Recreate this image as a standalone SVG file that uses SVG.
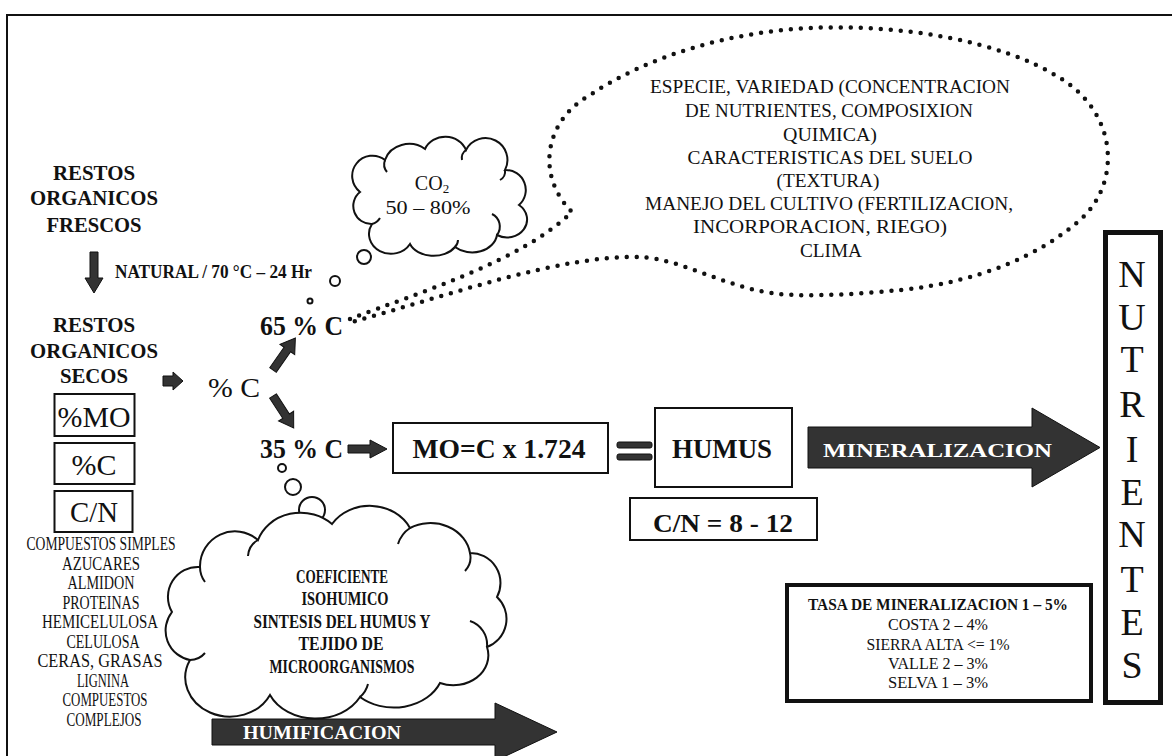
<svg xmlns="http://www.w3.org/2000/svg" width="1172" height="756" viewBox="0 0 1172 756">
<style>
.t{font-family:"Liberation Serif","Times New Roman",serif;fill:#111}
.b{font-weight:bold}
.m{text-anchor:middle}
.box{fill:#fff;stroke:#111;stroke-width:2}
.arr{fill:#333;stroke:#111;stroke-width:1}
.ln{fill:none;stroke:#111;stroke-width:2}
.bub{fill:#fff;stroke:#111;stroke-width:2}
.w{fill:#fff}
</style>
<rect x="0" y="0" width="1172" height="756" fill="#fff"/>
<rect x="7" y="15" width="1185" height="770" fill="none" stroke="#111" stroke-width="2"/>

<g id="connectors">
  <path id="down-arrow" class="arr" d="M90,252 L98,252 L98,278 L103,278 L94,293 L85,278 L90,278 Z"/>
  <path id="secos-arrow" class="arr" d="M163,376 L173,376 L173,372 L183,381 L173,390 L173,386 L163,386 Z"/>
  <path id="up-arrow" class="arr" transform="translate(273,370) rotate(-55)" d="M0,-4 L25,-4 L25,-9 L39,0 L25,9 L25,4 L0,4 Z"/>
  <path id="dn-arrow" class="arr" transform="translate(273,396) rotate(57)" d="M0,-4 L24,-4 L24,-9 L38,0 L24,9 L24,4 L0,4 Z"/>
  <path id="c35-arrow" class="arr" d="M348,445 L370,445 L370,440 L387,449 L370,458 L370,453 L348,453 Z"/>
  <rect class="arr" x="617" y="442" width="35" height="6" rx="2"/>
  <rect class="arr" x="617" y="454" width="35" height="6" rx="2"/>
  <path id="mineral-arrow" class="arr" d="M808,427 L1032,427 L1032,408 L1100,447.5 L1032,487 L1032,468 L808,468 Z"/>
  <text class="t b w" x="823" y="457" font-size="19" textLength="229" lengthAdjust="spacingAndGlyphs">MINERALIZACION</text>
  <path id="humif-arrow" class="arr" d="M212,719 L495,719 L495,703 L557,732 L495,761 L495,745 L212,745 Z"/>
  <text class="t b w" x="243" y="739" font-size="19" textLength="158" lengthAdjust="spacingAndGlyphs">HUMIFICACION</text>
  <path id="dotted-bubble" d="M350,319 C420,292 520,262 572,212 C535,175 545,120 590,95 C650,55 730,32 810,28 C900,24 1000,40 1060,78 C1120,115 1120,185 1080,220 C1040,255 980,282 900,290 C860,294 810,297 780,294 C730,290 680,258 640,257 C560,255 450,295 352,322" fill="none" stroke="#111" stroke-width="4.5" stroke-linecap="round" stroke-dasharray="0 10"/>
  <circle class="bub" cx="364" cy="257" r="7"/>
  <circle class="bub" cx="335" cy="281" r="5"/>
  <circle class="bub" cx="310" cy="301" r="2.5"/>
  <circle class="bub" cx="282" cy="468" r="4"/>
  <circle class="bub" cx="293" cy="487" r="8"/>
  <circle class="bub" cx="312" cy="510" r="13"/>
</g>

<g id="restos-frescos">
  <text class="t b m" x="94" y="180" font-size="20" textLength="82" lengthAdjust="spacingAndGlyphs">RESTOS</text>
  <text class="t b m" x="94" y="205" font-size="20" textLength="128" lengthAdjust="spacingAndGlyphs">ORGANICOS</text>
  <text class="t b m" x="94" y="232" font-size="20" textLength="95" lengthAdjust="spacingAndGlyphs">FRESCOS</text>
</g>
<g id="natural">
  <text class="t b" x="115" y="278" font-size="18" textLength="197" lengthAdjust="spacingAndGlyphs">NATURAL / 70 °C – 24 Hr</text>
</g>
<g id="restos-secos">
  <text class="t b m" x="94" y="332" font-size="20" textLength="82" lengthAdjust="spacingAndGlyphs">RESTOS</text>
  <text class="t b m" x="94" y="358" font-size="20" textLength="128" lengthAdjust="spacingAndGlyphs">ORGANICOS</text>
  <text class="t b m" x="94" y="383" font-size="20" textLength="68" lengthAdjust="spacingAndGlyphs">SECOS</text>
</g>
<g id="mo-box">
  <rect class="box" x="54.5" y="394" width="80" height="42"/>
  <text class="t m" x="94" y="427" font-size="29" textLength="73" lengthAdjust="spacingAndGlyphs">%MO</text>
</g>
<g id="c-box">
  <rect class="box" x="54.5" y="443" width="80" height="41"/>
  <text class="t m" x="94" y="475" font-size="29" textLength="45" lengthAdjust="spacingAndGlyphs">%C</text>
</g>
<g id="cn-box">
  <rect class="box" x="54.5" y="491" width="78" height="41"/>
  <text class="t m" x="94" y="522" font-size="29" textLength="48" lengthAdjust="spacingAndGlyphs">C/N</text>
</g>
<g id="compuestos">
  <text class="t m" x="101" y="550" font-size="18" textLength="149" lengthAdjust="spacingAndGlyphs">COMPUESTOS SIMPLES</text>
  <text class="t m" x="101" y="569.5" font-size="18" textLength="78" lengthAdjust="spacingAndGlyphs">AZUCARES</text>
  <text class="t m" x="101" y="589" font-size="18" textLength="67" lengthAdjust="spacingAndGlyphs">ALMIDON</text>
  <text class="t m" x="101" y="608.5" font-size="18" textLength="77" lengthAdjust="spacingAndGlyphs">PROTEINAS</text>
  <text class="t m" x="100" y="628" font-size="18" textLength="116" lengthAdjust="spacingAndGlyphs">HEMICELULOSA</text>
  <text class="t m" x="103" y="647.5" font-size="18" textLength="73" lengthAdjust="spacingAndGlyphs">CELULOSA</text>
  <text class="t m" x="100" y="667" font-size="18" textLength="125" lengthAdjust="spacingAndGlyphs">CERAS, GRASAS</text>
  <text class="t m" x="103" y="686.5" font-size="18" textLength="52" lengthAdjust="spacingAndGlyphs">LIGNINA</text>
  <text class="t m" x="105" y="706" font-size="18" textLength="85" lengthAdjust="spacingAndGlyphs">COMPUESTOS</text>
  <text class="t m" x="104" y="725.5" font-size="18" textLength="75" lengthAdjust="spacingAndGlyphs">COMPLEJOS</text>
</g>
<g id="pc">
  <text class="t" x="208" y="397" font-size="28" textLength="52" lengthAdjust="spacingAndGlyphs">% C</text>
</g>
<g id="pc65">
  <text class="t b" x="260" y="335" font-size="27" textLength="83" lengthAdjust="spacingAndGlyphs">65 % C</text>
</g>
<g id="pc35">
  <text class="t b" x="260" y="458" font-size="27" textLength="83" lengthAdjust="spacingAndGlyphs">35 % C</text>
</g>
<g id="co2-cloud">
  <path class="bub" d="M372,224 A18,18 0 0 1 360,192 A20,20 0 0 1 385,160 A25,22 0 0 1 425,149 A22,20 0 0 1 466,150 A20,20 0 0 1 505,170 A20,20 0 0 1 519,205 A20,18 0 0 1 497,235 A25,20 0 0 1 455,247 A25,18 0 0 1 410,244 A20,18 0 0 1 372,224 Z"/>
  <path class="ln" d="M372,224 A14,12 0 0 0 380,218 M385,160 A12,12 0 0 0 387,172 M466,150 A10,10 0 0 0 462,160 M505,170 A10,10 0 0 1 500,180 M497,235 A14,14 0 0 0 492,214 M455,247 A10,10 0 0 0 458,240"/>
  <text class="t m" x="432" y="190" font-size="20">CO<tspan font-size="13" dy="3">2</tspan></text>
  <text class="t m" x="428" y="214" font-size="19" textLength="85" lengthAdjust="spacingAndGlyphs">50 – 80%</text>
</g>
<g id="factors">
  <text class="t m" x="830" y="93" font-size="18" textLength="360" lengthAdjust="spacingAndGlyphs">ESPECIE, VARIEDAD (CONCENTRACION</text>
  <text class="t m" x="829" y="117" font-size="18" textLength="288" lengthAdjust="spacingAndGlyphs">DE NUTRIENTES, COMPOSIXION</text>
  <text class="t m" x="830" y="141" font-size="18" textLength="94" lengthAdjust="spacingAndGlyphs">QUIMICA)</text>
  <text class="t m" x="830" y="164" font-size="18" textLength="285" lengthAdjust="spacingAndGlyphs">CARACTERISTICAS DEL SUELO</text>
  <text class="t m" x="828" y="187" font-size="18" textLength="103" lengthAdjust="spacingAndGlyphs">(TEXTURA)</text>
  <text class="t m" x="829" y="210" font-size="18" textLength="368" lengthAdjust="spacingAndGlyphs">MANEJO DEL CULTIVO (FERTILIZACION,</text>
  <text class="t m" x="820" y="233" font-size="18" textLength="254" lengthAdjust="spacingAndGlyphs">INCORPORACION, RIEGO)</text>
  <text class="t m" x="831" y="257" font-size="18" textLength="62" lengthAdjust="spacingAndGlyphs">CLIMA</text>
</g>
<g id="humif-cloud">
  <path class="bub" d="M190,660 A30,30 0 0 1 172,612 A30,30 0 0 1 200,567 A35,35 0 0 1 258,540 A45,40 0 0 1 332,524 A45,40 0 0 1 410,528 A40,35 0 0 1 470,553 A30,30 0 0 1 497,597 A30,30 0 0 1 487,647 A35,30 0 0 1 440,683 A50,40 0 0 1 360,697 A50,40 0 0 1 270,695 A40,35 0 0 1 190,660 Z"/>
  <path class="ln" d="M200,567 A25,25 0 0 0 205,582 M258,540 A20,20 0 0 0 248,556 M410,528 A30,30 0 0 0 398,544 M470,553 A20,20 0 0 1 465,571 M487,647 A25,25 0 0 0 470,621 M360,697 A25,25 0 0 0 368,684 M190,660 A20,20 0 0 0 205,653"/>
  <text class="t b m" x="342" y="583" font-size="18" textLength="92" lengthAdjust="spacingAndGlyphs">COEFICIENTE</text>
  <text class="t b m" x="345" y="605" font-size="18" textLength="87" lengthAdjust="spacingAndGlyphs">ISOHUMICO</text>
  <text class="t b m" x="342" y="628" font-size="18" textLength="177" lengthAdjust="spacingAndGlyphs">SINTESIS DEL HUMUS Y</text>
  <text class="t b m" x="341" y="650" font-size="18" textLength="85" lengthAdjust="spacingAndGlyphs">TEJIDO DE</text>
  <text class="t b m" x="342" y="673" font-size="18" textLength="145" lengthAdjust="spacingAndGlyphs">MICROORGANISMOS</text>
</g>
<g id="mo-formula">
  <rect class="box" x="393" y="423" width="215" height="50"/>
  <text class="t b m" x="499" y="458" font-size="27" textLength="173" lengthAdjust="spacingAndGlyphs">MO=C x 1.724</text>
</g>
<g id="humus">
  <rect class="box" x="655" y="408" width="137" height="79"/>
  <text class="t b m" x="722" y="458" font-size="27" textLength="100" lengthAdjust="spacingAndGlyphs">HUMUS</text>
</g>
<g id="humus-cn">
  <rect class="box" x="630" y="498" width="187" height="42"/>
  <text class="t b m" x="723" y="532" font-size="26" textLength="140" lengthAdjust="spacingAndGlyphs">C/N = 8 - 12</text>
</g>
<g id="tasa">
  <rect x="787" y="585" width="304" height="116" fill="#fff" stroke="#111" stroke-width="4"/>
  <text class="t b m" x="938" y="610" font-size="16" textLength="260" lengthAdjust="spacingAndGlyphs">TASA DE MINERALIZACION 1 – 5%</text>
  <text class="t m" x="938" y="630" font-size="16" textLength="100" lengthAdjust="spacingAndGlyphs">COSTA 2 – 4%</text>
  <text class="t m" x="938" y="650" font-size="16" textLength="143" lengthAdjust="spacingAndGlyphs">SIERRA ALTA &lt;= 1%</text>
  <text class="t m" x="938" y="669" font-size="16" textLength="100" lengthAdjust="spacingAndGlyphs">VALLE 2 – 3%</text>
  <text class="t m" x="938" y="688" font-size="16" textLength="100" lengthAdjust="spacingAndGlyphs">SELVA 1 – 3%</text>
</g>
<g id="nutrientes">
  <rect x="1105.5" y="232.5" width="55" height="470" fill="#fff" stroke="#111" stroke-width="5"/>
  <text class="t m" x="1132" y="287" font-size="38">N</text>
  <text class="t m" x="1132" y="330" font-size="38">U</text>
  <text class="t m" x="1132" y="372" font-size="38">T</text>
  <text class="t m" x="1132" y="417" font-size="38">R</text>
  <text class="t m" x="1132" y="462" font-size="38">I</text>
  <text class="t m" x="1132" y="505" font-size="38">E</text>
  <text class="t m" x="1132" y="547" font-size="38">N</text>
  <text class="t m" x="1132" y="592" font-size="38">T</text>
  <text class="t m" x="1132" y="635" font-size="38">E</text>
  <text class="t m" x="1132" y="678" font-size="38">S</text>
</g>
</svg>
